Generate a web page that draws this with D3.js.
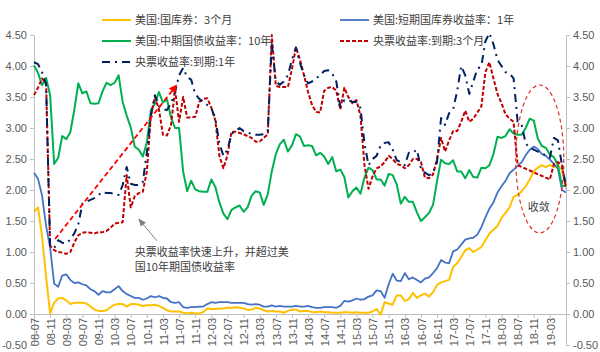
<!DOCTYPE html>
<html>
<head>
<meta charset="utf-8">
<script src="https://cdn.jsdelivr.net/npm/d3@7"></script>
<style>
  body { margin: 0; background: #fff; }
  text { font-family: "Liberation Sans", Arial, "Noto Sans CJK SC", sans-serif; }
  .cn { font-family: "Noto Sans CJK SC", "Liberation Sans", sans-serif; }
</style>
</head>
<body>
<div id="chart-area"></div>
<script>
// monthly categories 2008-07 .. 2019-07
const months = d3.timeMonth.range(new Date(2008, 6, 1), new Date(2019, 7, 1)).map(d3.timeFormat('%y-%m'));
const tickMonths = months.filter((d, i) => i % 4 === 0 && i <= 128);
const yTicks = [-0.5, 0, 0.5, 1, 1.5, 2, 2.5, 3, 3.5, 4, 4.5];

// 美国:国库券:3个月
const us3m = [
  1.65, 1.72, 1.25, 0.6, 0.01, 0.18,
  0.25, 0.26, 0.22, 0.16, 0.18, 0.18, 0.18, 0.17, 0.12, 0.07, 0.05, 0.05,
  0.06, 0.11, 0.15, 0.16, 0.16, 0.12, 0.16, 0.16, 0.15, 0.13, 0.14, 0.14,
  0.15, 0.13, 0.10, 0.06, 0.04, 0.04, 0.04, 0.02, 0.01, 0.02, 0.01, 0.01,
  0.03, 0.09, 0.08, 0.08, 0.09, 0.09, 0.10, 0.10, 0.11, 0.10, 0.09, 0.07,
  0.07, 0.10, 0.09, 0.06, 0.04, 0.05, 0.04, 0.04, 0.02, 0.05, 0.07, 0.07,
  0.04, 0.05, 0.05, 0.03, 0.03, 0.04, 0.03, 0.03, 0.02, 0.02, 0.02, 0.03,
  0.03, 0.02, 0.03, 0.02, 0.02, 0.02, 0.04, 0.08, -0.01, 0.19, 0.17, 0.15,
  0.30, 0.30, 0.21, 0.24, 0.34, 0.26, 0.30, 0.33, 0.28, 0.35, 0.47, 0.51,
  0.53, 0.55, 0.76, 0.82, 0.92, 1.03, 1.06, 1.00, 1.04, 1.08, 1.19, 1.30,
  1.36, 1.42, 1.55, 1.63, 1.72, 1.89, 1.92, 1.98, 2.06, 2.17, 2.30, 2.36,
  2.40, 2.37, 2.40, 2.37, 2.40, 2.32, 2.08
];

// 美国:短期国库券收益率:1年
const us1y = [
  2.28, 2.18, 1.91, 1.42, 1.07, 0.49,
  0.44, 0.62, 0.64, 0.55, 0.50, 0.51, 0.48, 0.46, 0.40, 0.37, 0.31, 0.37,
  0.35, 0.35, 0.40, 0.45, 0.37, 0.32, 0.29, 0.26, 0.26, 0.23, 0.25, 0.29,
  0.27, 0.29, 0.26, 0.25, 0.19, 0.18, 0.19, 0.11, 0.10, 0.11, 0.11, 0.12,
  0.12, 0.16, 0.19, 0.18, 0.19, 0.19, 0.19, 0.18, 0.18, 0.18, 0.18, 0.16,
  0.15, 0.16, 0.15, 0.12, 0.12, 0.14, 0.12, 0.13, 0.12, 0.12, 0.12, 0.13,
  0.12, 0.12, 0.13, 0.11, 0.10, 0.10, 0.11, 0.11, 0.11, 0.10, 0.13, 0.21,
  0.20, 0.22, 0.25, 0.23, 0.24, 0.28, 0.30, 0.38, 0.37, 0.26, 0.48, 0.65,
  0.54, 0.53, 0.66, 0.56, 0.59, 0.55, 0.51, 0.57, 0.59, 0.66, 0.74, 0.87,
  0.83, 0.82, 1.01, 1.04, 1.12, 1.20, 1.22, 1.23, 1.28, 1.40, 1.56, 1.70,
  1.80, 1.96, 2.06, 2.15, 2.27, 2.33, 2.39, 2.45, 2.56, 2.65, 2.70, 2.66,
  2.58, 2.55, 2.49, 2.42, 2.34, 2.00, 1.96
];

// 美国:中期国债收益率:10年
const us10y = [
  4.01, 3.89, 3.69, 3.81, 3.53, 2.42,
  2.52, 2.87, 2.82, 2.93, 3.29, 3.72, 3.56, 3.59, 3.40, 3.39, 3.40, 3.59,
  3.73, 3.69, 3.73, 3.85, 3.42, 3.20, 3.01, 2.70, 2.65, 2.54, 2.76, 3.29,
  3.39, 3.58, 3.41, 3.46, 3.17, 3.00, 3.00, 2.30, 1.98, 2.15, 2.01, 1.98,
  1.97, 1.97, 2.17, 2.05, 1.80, 1.62, 1.53, 1.68, 1.72, 1.75, 1.65, 1.72,
  1.91, 1.98, 1.96, 1.76, 1.93, 2.30, 2.58, 2.74, 2.81, 2.62, 2.72, 2.90,
  2.86, 2.71, 2.72, 2.71, 2.56, 2.60, 2.54, 2.42, 2.53, 2.30, 2.33, 2.21,
  1.88, 1.98, 2.04, 1.94, 2.20, 2.36, 2.32, 2.17, 2.17, 2.07, 2.26, 2.24,
  2.09, 1.78, 1.89, 1.81, 1.81, 1.64, 1.50, 1.56, 1.63, 1.76, 2.14, 2.49,
  2.43, 2.42, 2.48, 2.30, 2.30, 2.19, 2.32, 2.21, 2.20, 2.36, 2.35, 2.40,
  2.58, 2.86, 2.84, 2.87, 2.98, 2.91, 2.89, 2.89, 3.00, 3.15, 3.12, 2.83,
  2.71, 2.68, 2.57, 2.53, 2.40, 2.07, 2.06
];

// 央票收益率:到期:3个月 (null = no quote)
const cb3m = [
  3.53, 3.65, 3.8, 3.72, 1.1, 1.03,
  1.0, 0.99, 0.97, 1.0, 1.15, 1.27, 1.31, 1.32, 1.31, 1.3, 1.32, 1.32,
  1.34, 1.39, 1.46, 1.47, 1.48, 2.24, 1.72, 1.9, 1.95, 1.97, 2.3, 3.2,
  3.5, 3.3, 2.89, 2.88, 3.05, 3.62, 3.1, 3.5, 3.17, 3.17, 3.18, 3.42,
  3.47, 3.48, 3.33, 3.12, 2.55, 2.35, 2.56, 2.94, 2.94, 2.92, 2.9, 2.87,
  2.84, 2.78, 2.78, 2.84, 2.9, 4.5, 3.68, 3.66, 3.66, 3.66, 3.95, 4.3,
  4.1, 3.85, 3.58, 3.37, 3.26, 3.25, 3.6, 3.65, 3.66, 3.6, 3.3, 3.65,
  3.5, 3.4, 3.45, 3.2, 2.4, 2.02, 2.22, 2.35, 2.38, 2.45, 2.55, 2.5,
  2.42, 2.4, 2.35, 2.4, 2.5, 2.5, 2.45, 2.2, 2.19, 2.25, 2.5, 2.84,
  2.62, 2.8, 2.95, 2.95, 3.1, 3.28, 3.1, 3.15, 3.25, 3.35, 3.9, 4.06,
  3.8, 3.55, 3.4, 3.22, 3.15, 3.1, 2.4, null, null, null, null, null,
  null, null, 2.17, 2.42, 2.45, 2.4, 2.02
];

// 央票收益率:到期:1年
const cb1y = [
  4.06, 4.03, 3.9, 3.7, 1.1, 1.06,
  1.19, 1.15, 1.14, 1.2, 1.3, 1.45, 1.78, 1.81, 1.84, 1.87, 1.92, 1.97,
  1.95, 1.95, 1.94, 1.92, 2.08, 2.37, 2.1, 2.08, 2.08, 2.13, 2.6, 3.2,
  3.53, 3.35, 3.3, 3.29, 3.4, 3.58, 3.85, 3.97, 3.82, 3.78, 3.55, 3.47,
  3.42, 3.37, 3.32, 3.15, 2.75, 2.55, 2.65, 2.9, 2.96, 3.0, 2.95, 2.93,
  2.9, 2.89, 2.89, 2.9, 2.95, 4.35, 3.75, 3.7, 3.75, 3.85, 4.1, 4.3,
  4.05, 3.85, 3.72, 3.75, 3.8, 3.85, 3.92, 3.93, 3.88, 3.75, 3.34, 3.45,
  3.45, 3.42, 3.42, 3.32, 2.75, 2.4, 2.5, 2.55, 2.72, 2.76, 2.77, 2.65,
  2.48, 2.45, 2.4, 2.6, 2.6, 2.65, 2.35, 2.28, 2.24, 2.27, 2.45, 3.16,
  3.05, 3.24, 3.3, 3.6, 4.0, 3.85, 3.55, 3.75, 3.95, 4.0, 4.4, 4.53,
  4.35, 4.1, 4.0, 3.9, 3.88, 3.8, 3.1, 3.05, 2.75, 2.68, 2.65, 2.62,
  2.6, 2.55, 2.52, 2.84, 2.8, 2.4, 2.05
];

const seriesNames = ['美国:国库券：3个月', '美国:短期国库券收益率：1年', '美国:中期国债收益率：10年', '央票收益率:到期:3个月', '央票收益率:到期:1年'];

const width = 600;
const height = 352;

const series = [
  { name: seriesNames[0], values: us3m, color: '#FFC000', w: 2, dash: null },
  { name: seriesNames[1], values: us1y, color: '#4472C4', w: 1.8, dash: null },
  { name: seriesNames[2], values: us10y, color: '#00B050', w: 2, dash: null },
  { name: seriesNames[3], values: cb3m, color: '#C00000', w: 2, dash: '4,2' },
  { name: seriesNames[4], values: cb1y, color: '#002060', w: 2, dash: '8,5,2,5' }
];

const scaleX = d3.scalePoint()
  .domain(months)
  .range([34, 566]);

const scaleY = d3.scaleLinear()
  .domain([-0.5, 4.5])
  .range([345, 35]);

const svg = d3.select('#chart-area').append('svg')
  .attr('width', width)
  .attr('height', height);

const fmt = d => d.toFixed(2);

function styleAxis(g) {
  g.selectAll('path.domain').attr('stroke', '#bfbfbf');
  g.selectAll('.tick line').attr('stroke', '#bfbfbf');
  g.selectAll('.tick text')
    .attr('fill', '#595959')
    .attr('font-size', '11px')
    .attr('font-family', '"Liberation Sans", Arial, sans-serif');
}

svg.append('g')
  .attr('transform', 'translate(34, 0)')
  .call(d3.axisLeft(scaleY).tickValues(yTicks).tickFormat(fmt).tickSize(4).tickSizeOuter(0))
  .call(styleAxis);

svg.append('g')
  .attr('transform', 'translate(566, 0)')
  .call(d3.axisRight(scaleY).tickValues(yTicks).tickFormat(fmt).tickSize(4).tickSizeOuter(0))
  .call(styleAxis);

svg.append('g')
  .attr('transform', `translate(0, ${scaleY(0)})`)
  .call(d3.axisBottom(scaleX).tickValues(tickMonths).tickSize(4).tickSizeOuter(0))
  .call(styleAxis)
  .selectAll('.tick text')
    .attr('transform', 'rotate(-90)')
    .attr('text-anchor', 'end')
    .attr('x', -4)
    .attr('y', 0)
    .attr('dy', '0.38em');

const line = d3.line()
  .x(d => scaleX(d.m))
  .y(d => scaleY(d.v));

series.forEach(s => {
  const pts = months.map((m, i) => ({ m: m, v: s.values[i] })).filter(d => d.v != null);
  svg.append('path')
    .datum(pts)
    .attr('d', line)
    .attr('fill', 'none')
    .attr('stroke', s.color)
    .attr('stroke-width', s.w)
    .attr('stroke-dasharray', s.dash)
    .attr('stroke-linejoin', 'round');
});

// legend
const legendPos = [
  { x: 102, y: 20 }, { x: 340, y: 20 },
  { x: 102, y: 41 }, { x: 340, y: 41 },
  { x: 102, y: 62 }
];
series.forEach((s, i) => {
  const p = legendPos[i];
  svg.append('line')
    .attr('x1', p.x).attr('x2', p.x + 29)
    .attr('y1', p.y).attr('y2', p.y)
    .attr('stroke', s.color)
    .attr('stroke-width', s.w)
    .attr('stroke-dasharray', s.dash);
  svg.append('text')
    .attr('class', 'cn')
    .attr('x', p.x + 33)
    .attr('y', p.y)
    .attr('dy', '0.35em')
    .attr('font-size', '11px')
    .attr('fill', '#404040')
    .text(s.name);
});

// annotations
const defs = svg.append('defs');
defs.append('marker')
  .attr('id', 'redHead')
  .attr('viewBox', '0 0 10 10')
  .attr('refX', 8).attr('refY', 5)
  .attr('markerWidth', 4.5).attr('markerHeight', 4.5)
  .attr('orient', 'auto')
  .append('path')
    .attr('d', 'M0,0 L10,5 L0,10 z')
    .attr('fill', '#FF0000');
defs.append('marker')
  .attr('id', 'grayHead')
  .attr('viewBox', '0 0 10 10')
  .attr('refX', 9).attr('refY', 5)
  .attr('markerWidth', 8).attr('markerHeight', 8)
  .attr('orient', 'auto')
  .append('path')
    .attr('d', 'M0,1 L10,5 L0,9 z')
    .attr('fill', '#808080');

svg.append('line')
  .attr('x1', scaleX('08-12') + 1).attr('y1', scaleY(1.21))
  .attr('x2', scaleX('11-06') + 1).attr('y2', scaleY(3.68))
  .attr('stroke', '#FF0000')
  .attr('stroke-width', 1.8)
  .attr('stroke-dasharray', '5,3')
  .attr('marker-end', 'url(#redHead)');

svg.append('line')
  .attr('x1', scaleX('11-01') + 2).attr('y1', scaleY(1.18))
  .attr('x2', scaleX('10-09')).attr('y2', scaleY(1.53))
  .attr('stroke', '#808080')
  .attr('stroke-width', 1)
  .attr('marker-end', 'url(#grayHead)');

const note = svg.append('text')
  .attr('class', 'cn')
  .attr('font-size', '11px')
  .attr('fill', '#404040');
note.append('tspan')
  .attr('x', scaleX('10-08')).attr('y', scaleY(1.0))
  .attr('dy', '0.35em')
  .text('央票收益率快速上升，并超过美');
note.append('tspan')
  .attr('x', scaleX('10-08')).attr('y', scaleY(0.75))
  .attr('dy', '0.35em')
  .text('国10年期国债收益率');

svg.append('ellipse')
  .attr('cx', scaleX('18-12') + 2)
  .attr('cy', scaleY(2.5))
  .attr('rx', 24)
  .attr('ry', 74)
  .attr('fill', 'none')
  .attr('stroke', '#E03030')
  .attr('stroke-width', 1.2)
  .attr('stroke-dasharray', '4,3');

svg.append('text')
  .attr('class', 'cn')
  .attr('x', scaleX('18-12') + 1)
  .attr('y', scaleY(1.72))
  .attr('dy', '0.35em')
  .attr('text-anchor', 'middle')
  .attr('font-size', '11px')
  .attr('fill', '#404040')
  .text('收敛');
</script>
</body>
</html>
